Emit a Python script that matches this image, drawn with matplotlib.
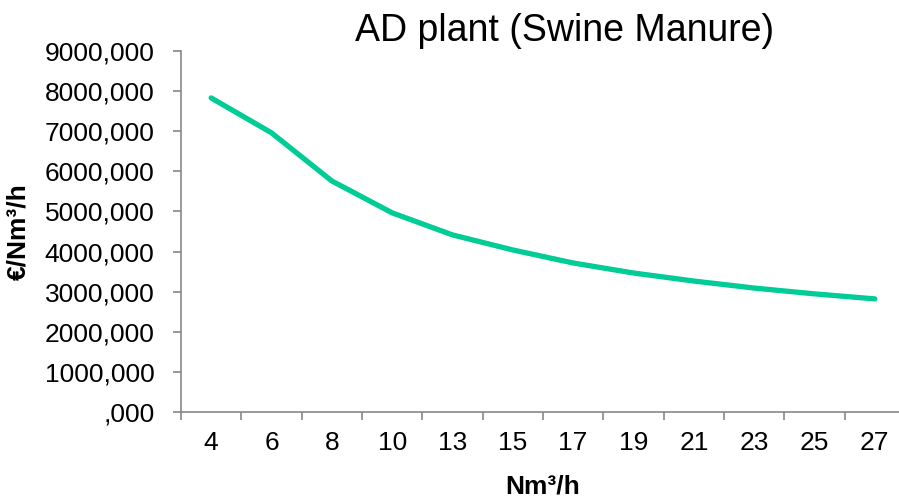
import numpy as np
import matplotlib.pyplot as plt
from matplotlib.ticker import FuncFormatter

# Datos
caudal = ['4', '6', '8', '10', '13', '15', '17', '19', '21', '23', '25', '27']
coste = [7830, 6960, 5760, 4965, 4415, 4040, 3715, 3465, 3265, 3090, 2945, 2820]

plt.rcParams['font.family'] = ['Liberation Sans', 'DejaVu Sans']

fig = plt.figure(figsize=(8.99, 4.98), dpi=100)
ax = fig.add_axes([181/899, 1-412/498, (905-181)/899, (412-51)/498])

x = np.arange(len(caudal))
ax.plot(x, coste, color='#00CC96', linewidth=3.8, solid_capstyle='round')

ax.set_xlim(-0.5, len(caudal)-0.5)
ax.set_ylim(0, 9000)
ax.set_yticks(np.arange(0, 9001, 1000))

def fmt(v, pos):
    return ',000' if v == 0 else '%d,000' % v
ax.yaxis.set_major_formatter(FuncFormatter(fmt))

# etiquetas en el centro, marcas en los límites de categoría
ax.set_xticks(x)
ax.set_xticklabels(caudal)
ax.set_xticks(np.arange(-0.5, len(caudal), 1), minor=True)
ax.tick_params(axis='x', which='major', length=0, pad=14, labelsize=19)
ax.tick_params(axis='x', which='minor', length=6, color='#888888', width=1.2)
ax.tick_params(axis='y', length=6, color='#888888', width=1.2, labelsize=19, pad=13)

for s in ['top', 'right']:
    ax.spines[s].set_visible(False)
for s in ['left', 'bottom']:
    ax.spines[s].set_color('#888888')
    ax.spines[s].set_linewidth(1.2)

fig.text(565/899, 1-31/498, 'AD plant (Swine Manure)', fontsize=27, ha='center', va='center')
fig.text(543/899, 1-486/498, 'Nm³/h', fontsize=19, fontweight='bold', ha='center', va='center')
fig.text(18/899, 1-232/498, '€/Nm³/h', rotation=90, fontsize=19, fontweight='bold',
         ha='center', va='center')

plt.savefig('out.png', dpi=100)
